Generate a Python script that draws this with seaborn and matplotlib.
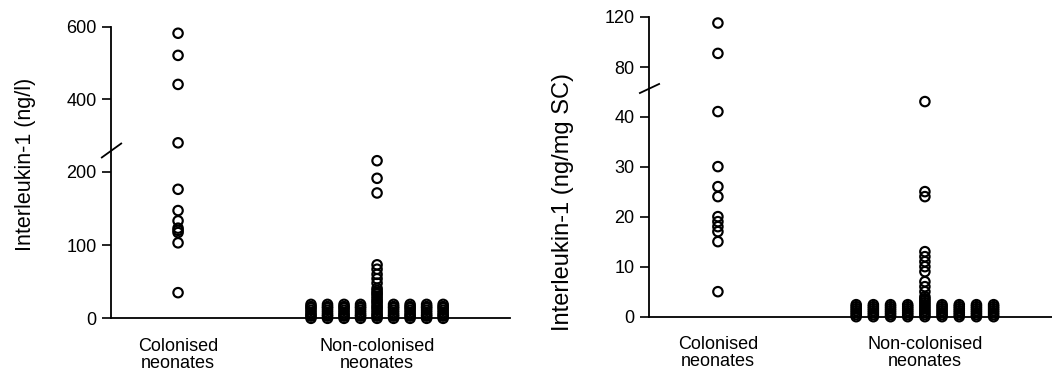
import numpy as np
import pandas as pd
import matplotlib
matplotlib.use("Agg")
import matplotlib.pyplot as plt
import matplotlib.transforms as mtransforms
import seaborn as sns

sns.set_style("ticks", {"axes.edgecolor": "black", "text.color": "black",
                        "axes.labelcolor": "black", "xtick.color": "black",
                        "ytick.color": "black"})
plt.rcParams['font.family'] = ['Liberation Sans', 'DejaVu Sans']

groups = ["Colonised\nneonates", "Non-colonised\nneonates"]

# left panel: Interleukin-1 (ng/l)
serum_colonised = [582, 521, 441, 280, 176, 147, 133, 123, 120, 117, 103, 35]
serum_noncol_centre = [215, 191, 171, 73, 67, 60, 54, 48, 41, 38, 35, 33, 30,
                       27, 24, 22, 19, 16, 14, 11, 8, 5, 3, 0]
serum_noncol_sides = [[0, 3, 5, 8, 11, 14, 16, 19], [0, 3, 5, 8, 11, 14, 16, 19],
                      [0, 3, 5, 8, 11, 14, 16, 19], [0, 3, 5, 8, 11, 14, 16, 19],
                      [0, 3, 5, 8, 11, 14, 16, 19], [0, 3, 5, 8, 11, 14, 16, 19],
                      [0, 3, 5, 8, 11, 14, 16, 19], [0, 3, 5, 8, 11, 14, 16, 19]]
serum_ticks = [0, 100, 200, 400, 600]

# right panel: Interleukin-1 (ng/mg SC)
sc_colonised = [115, 91, 41, 30, 26, 24, 20, 19, 18, 17, 15, 5]
sc_noncol_centre = [43, 25, 24, 13, 12, 11, 10, 9, 7, 6, 5, 4, 3.6, 3.2, 2.8,
                    2.4, 2, 1.6, 1.2, 0.8, 0.4, 0]
sc_noncol_sides = [[0, 0.4, 0.8, 1.2, 1.6, 2, 2.4], [0, 0.4, 0.8, 1.2, 1.6, 2, 2.4],
                   [0, 0.4, 0.8, 1.2, 1.6, 2, 2.4], [0, 0.4, 0.8, 1.2, 1.6, 2, 2.4],
                   [0, 0.4, 0.8, 1.2, 1.6, 2, 2.4], [0, 0.4, 0.8, 1.2, 1.6, 2, 2.4],
                   [0, 0.4, 0.8, 1.2, 1.6, 2, 2.4], [0, 0.4, 0.8, 1.2, 1.6, 2, 2.4]]
sc_ticks = [0, 10, 20, 30, 40, 80, 120]

side_slots = [-4, -3, -2, -1, 1, 2, 3, 4]
STEP = 0.083


def build_frame(colonised, centre, sides):
    rows = [(0, 0, v) for v in colonised]
    rows += [(1, 0, v) for v in centre]
    for slot, col in zip(side_slots, sides):
        rows += [(1, slot, v) for v in col]
    df = pd.DataFrame(rows, columns=["group", "slot", "value"])
    df["xpos"] = df["group"] + df["slot"] * STEP
    return df


def break_scale(lo, hi, r):
    def fwd(y):
        y = np.asarray(y, dtype=float)
        return np.where(y <= lo, y, np.where(y >= hi, lo + (y - hi) * r, lo))

    def inv(t):
        t = np.asarray(t, dtype=float)
        return np.where(t <= lo, t, hi + (t - lo) / r)
    return fwd, inv


def draw_panel(ax, df, ticks, top, brk, label, xlim, label_y, mark_slope, label_size):
    sns.scatterplot(data=df, x="xpos", y="value", ax=ax, marker="o", s=46,
                    facecolor="none", edgecolor="black", linewidth=1.55,
                    clip_on=False, legend=False, zorder=3)
    ax.set_yscale("function", functions=break_scale(*brk))
    ax.set_ylim(0, top)
    ax.set_xlim(*xlim)
    ax.set_yticks(ticks)
    ax.set_yticklabels([str(t) for t in ticks])
    ax.set_xticks([0, 1])
    ax.set_xticklabels(groups, fontsize=13, linespacing=0.98)
    ax.tick_params(axis="x", length=0, pad=14)
    ax.tick_params(axis="y", length=6.5, width=1.2, labelsize=13, pad=4)
    ax.set_xlabel("")
    ax.set_ylabel(label, fontsize=label_size)
    ax.yaxis.set_label_coords(-0.187, label_y)
    sns.despine(ax=ax)
    for side in ["left", "bottom"]:
        ax.spines[side].set_linewidth(1.3)
    # break mark across the y axis
    trans = mtransforms.blended_transform_factory(ax.transAxes, ax.transData)
    ax.plot([0], [brk[0]], transform=trans, marker=[(-1, -mark_slope), (1, mark_slope)],
            markersize=15, markeredgewidth=1.3, color="black", clip_on=False, zorder=4)


fig = plt.figure(figsize=(10.52, 3.71), dpi=100)
ax1 = fig.add_axes([0.1055, 0.142, 0.3793, 0.786])
ax2 = fig.add_axes([0.6169, 0.1464, 0.3831, 0.8086])

draw_panel(ax1, build_frame(serum_colonised, serum_noncol_centre, serum_noncol_sides),
           serum_ticks, 600, (229, 259, 0.495), "Interleukin-1 (ng/l)",
           (-0.337, 1.668), 0.527, 0.72, 15.5)
draw_panel(ax2, build_frame(sc_colonised, sc_noncol_centre, sc_noncol_sides),
           sc_ticks, 120, (45.7, 63.6, 0.253), "Interleukin-1 (ng/mg SC)",
           (-0.333, 1.614), 0.382, 0.47, 17)

fig.savefig("out.png", dpi=100)
